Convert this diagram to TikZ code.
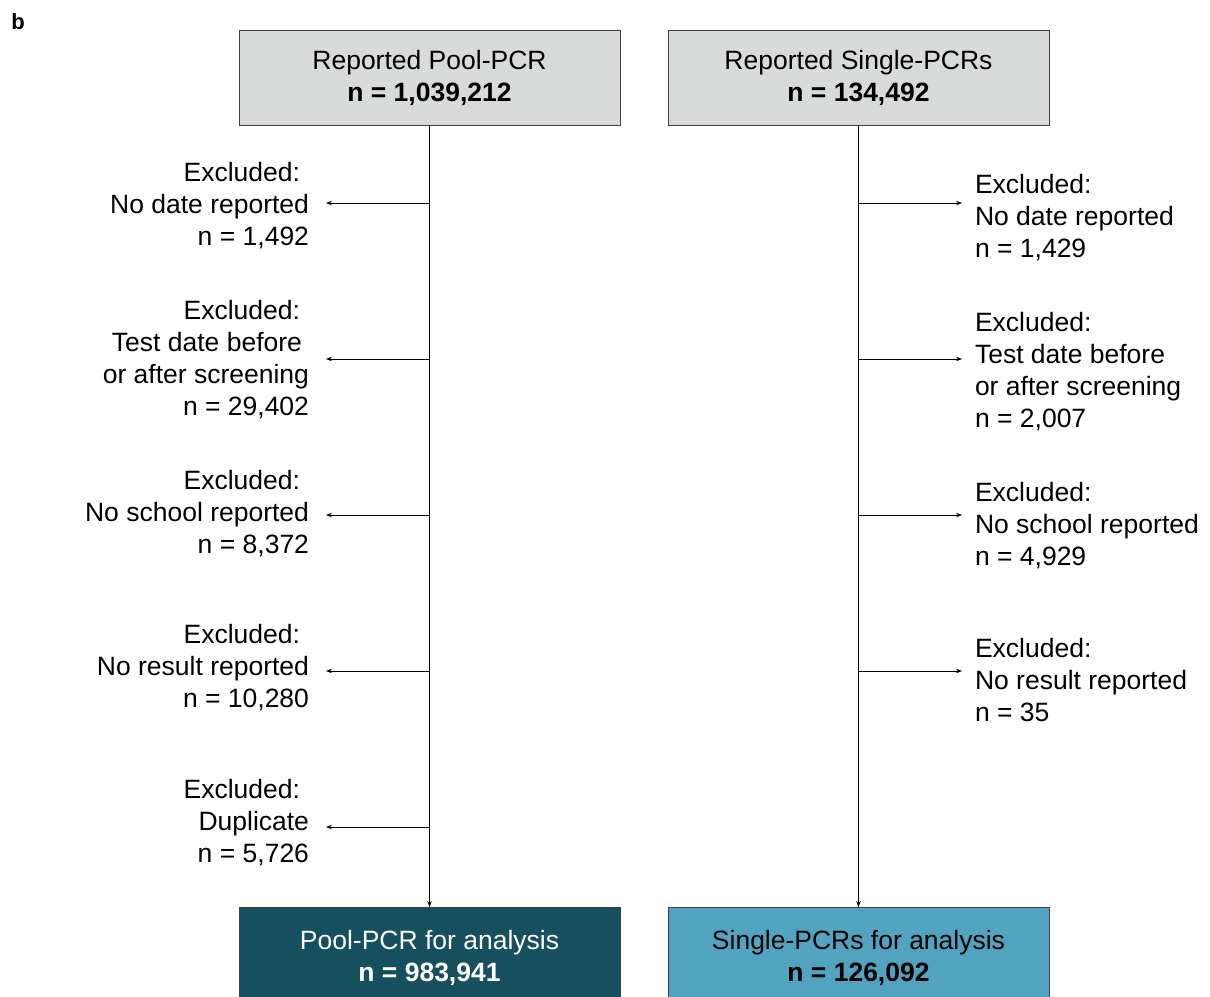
\documentclass[tikz,border=0pt]{standalone}
\usepackage{fontspec}
\setmainfont{Liberation Sans}
\usetikzlibrary{arrows.meta}
\definecolor{boxgray}{HTML}{D9DADA}
\definecolor{darkteal}{HTML}{164F5E}
\definecolor{lightteal}{HTML}{52A3C0}
\definecolor{edgegray}{HTML}{404040}
\begin{document}
\begin{tikzpicture}[x=1pt,y=-1pt,
  every node/.style={font=\fontsize{26.5}{32}\selectfont, inner sep=0pt, outer sep=0pt},
  box/.style={draw=edgegray, line width=1pt, minimum width=381pt, minimum height=95pt, align=center},
  botbox/.style={box, minimum height=101pt},
  lab/.style={align=right, anchor=east},
  rlab/.style={align=left, anchor=west},
  arr/.style={-{Stealth[length=6pt,width=4.5pt]}, line width=0.9pt},
]
\useasboundingbox (0,0) rectangle (1210,996);

\node[font=\fontsize{22}{26}\selectfont\bfseries] (panel) at (18,22) {b};

% top boxes
\node[box, fill=boxgray] (topL) at (429.5,77.5) {Reported Pool-PCR\\\textbf{n = 1,039,212}};
\node[box, fill=boxgray] (topR) at (858.5,77.5) {Reported Single-PCRs\\\textbf{n = 134,492}};

% bottom boxes
\node[botbox, fill=darkteal, text=white] (botL) at (429.5,957.5) {Pool-PCR for analysis\\\textbf{n = 983,941}};
\node[botbox, fill=lightteal, text=black] (botR) at (858.5,957.5) {Single-PCRs for analysis\\\textbf{n = 126,092}};

% trunks
\draw[arr] (topL.south) -- (botL.north);
\draw[arr] (topR.south) -- (botR.north);

% left branch points
\coordinate (bl1) at (429.5,203);
\coordinate (bl2) at (429.5,359);
\coordinate (bl3) at (429.5,515);
\coordinate (bl4) at (429.5,671);
\coordinate (bl5) at (429.5,827);

% right branch points
\coordinate (br1) at (858.5,203);
\coordinate (br2) at (858.5,359);
\coordinate (br3) at (858.5,515);
\coordinate (br4) at (858.5,671);

% left labels
\node[lab] (ll1) at (309,206) {Excluded:\kern9pt\\No date reported\\n = 1,492};
\node[lab] (ll2) at (309,360) {Excluded:\kern9pt\\Test date before\kern7pt\\or after screening\\n = 29,402};
\node[lab] (ll3) at (309,514) {Excluded:\kern9pt\\No school reported\\n = 8,372};
\node[lab] (ll4) at (309,668) {Excluded:\kern9pt\\No result reported\\n = 10,280};
\node[lab] (ll5) at (309,823) {Excluded:\kern9pt\\Duplicate\\n = 5,726};

% right labels
\node[rlab] (rl1) at (975,218) {Excluded:\\No date reported\\n = 1,429};
\node[rlab] (rl2) at (975,372) {Excluded:\\Test date before\\or after screening\\n = 2,007};
\node[rlab] (rl3) at (975,526) {Excluded:\\No school reported\\n = 4,929};
\node[rlab] (rl4) at (975,680) {Excluded:\\No result reported\\n = 35};

% left arrows
\foreach \i in {1,...,5}
  \draw[arr, shorten >=17pt] (bl\i) -- (bl\i -| ll\i.east);
% right arrows
\foreach \i in {1,...,4}
  \draw[arr, shorten >=13pt] (br\i) -- (br\i -| rl\i.west);
\end{tikzpicture}
\end{document}
